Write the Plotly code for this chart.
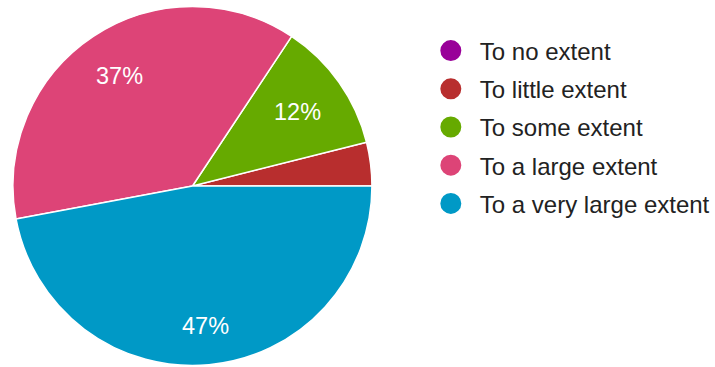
import math
import plotly.graph_objects as go

categories = ["To no extent", "To little extent", "To some extent",
              "To a large extent", "To a very large extent"]
counts = [0, 2, 6, 19, 24]
colors = ["#990099", "#b82e2e", "#66aa00", "#dd4477", "#0099c6"]

W, H = 715, 367
CX, CY, R = 193, 186, 180          # pie centre / radius in px
total = sum(counts)

fig = go.Figure()
fig.add_trace(go.Pie(
    labels=categories, values=counts, sort=False,
    direction="counterclockwise", rotation=90,
    marker=dict(colors=colors, line=dict(color="white", width=1.5)),
    textinfo="none", showlegend=False, hoverinfo="label+percent",
    domain=dict(x=[(CX - R) / W, (CX + R) / W], y=[1 - (CY + R) / H, 1 - (CY - R) / H]),
))

# slice labels: placed along the slice mid-angle so that the text box stays within 0.85 R
tw, th = 47, 18
start = 0.0
for c in counts:
    frac = c / total
    mid = start + frac * 180.0
    start += frac * 360.0
    if frac < 0.05:
        continue
    a = math.radians(mid)
    ux, uy = math.cos(a), -math.sin(a)
    ox, oy = math.copysign(tw / 2, ux), math.copysign(th / 2, uy)
    b = 2 * (ux * ox + uy * oy)
    cc = ox * ox + oy * oy - (0.85 * R) ** 2
    d = (-b + math.sqrt(b * b - 4 * cc)) / 2
    px, py = CX + d * ux, CY + d * uy
    fig.add_annotation(x=px / W, y=1 - py / H, xref="paper", yref="paper",
                       xanchor="center", yanchor="middle",
                       text=f"{round(100 * frac)}%", showarrow=False,
                       font=dict(family="Liberation Sans, Arial", size=23.5, color="white"))

for i, (name, col) in enumerate(zip(categories, colors)):
    fig.add_trace(go.Scatter(
        x=[None], y=[None], mode="markers", name=name, legendgroup=f"g{i}",
        marker=dict(symbol="circle", size=16, color=col, line=dict(color=col, width=5)),
    ))

fig.update_layout(
    width=W, height=H, margin=dict(l=0, r=0, t=0, b=0),
    paper_bgcolor="white", plot_bgcolor="white",
    xaxis=dict(visible=False), yaxis=dict(visible=False),
    legend=dict(x=423 / W, xanchor="left", y=1 - 28.5 / H, yanchor="top",
                itemwidth=48, tracegroupgap=4,
                font=dict(family="Liberation Sans, Arial", size=24, color="#222222")),
)
fig.write_html("out.html")
